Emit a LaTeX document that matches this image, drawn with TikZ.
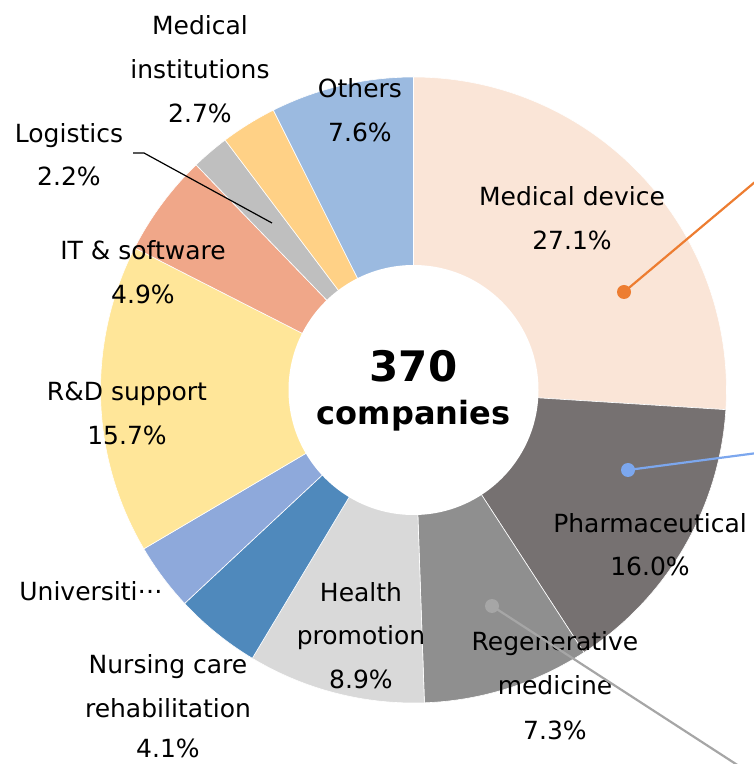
\documentclass[tikz,border=0pt]{standalone}
\usepackage{fontspec}
\setmainfont{DejaVu Sans}
\definecolor{cMD}{HTML}{FAE5D7}
\definecolor{cPH}{HTML}{767171}
\definecolor{cRG}{HTML}{8F8F8F}
\definecolor{cHP}{HTML}{D9D9D9}
\definecolor{cNC}{HTML}{4F89BC}
\definecolor{cUN}{HTML}{8EA9DB}
\definecolor{cRD}{HTML}{FFE699}
\definecolor{cIT}{HTML}{F0A789}
\definecolor{cLG}{HTML}{BFBFBF}
\definecolor{cMI}{HTML}{FFD186}
\definecolor{cOT}{HTML}{9BBAE0}
\definecolor{lnOrange}{HTML}{ED7D31}
\definecolor{lnBlue}{HTML}{7CA7EE}
\definecolor{lnGray}{HTML}{A6A6A6}
\begin{document}
\begin{tikzpicture}[x=1pt,y=1pt,
  slice/.style={fill=#1, draw=white, line width=0.6pt},
  lbl/.style={align=center, anchor=base, inner sep=0pt, font=\fontsize{25}{44}\selectfont},
  dotmark/.style={circle, fill=#1, minimum size=14pt, inner sep=0pt},
  leader/.style={draw=#1, line width=2.2pt}]
\useasboundingbox (0,0) rectangle (754,764);
\clip (0,0) rectangle (754,764);
\coordinate (C) at (413.5,374);
\foreach \a/\b/\c in {90/-3.6/cMD, -3.6/-57/cPH, -57/-88/cRG, -88/-121/cHP, -121/-137/cNC, -137/-149.5/cUN, -149.5/-207/cRD, -207/-226/cIT, -226/-233/cLG, -233/-243.4/cMI, -243.4/-270/cOT}
  \path[slice=\c] (C) -- ++(\a:313pt) arc[start angle=\a, end angle=\b, radius=313pt] -- cycle;
\node[circle, fill=white, minimum size=250pt, inner sep=0pt] (hole) at (C) {};
\node[anchor=base, inner sep=0pt, font=\fontsize{42}{42}\bfseries\selectfont] (total) at (413.5,382) {370};
\node[anchor=base, inner sep=0pt, font=\fontsize{32}{32}\bfseries\selectfont] (unit) at (413.5,339) {companies};
% labels
\node[lbl] (lMI) at (200,729) {Medical};
\node[lbl] (lMI2) at (200,685) {institutions};
\node[lbl] (lMI3) at (200,641) {2.7\%};
\node[lbl] (lLG) at (69,621) {Logistics};
\node[lbl] (lLG2) at (69,578) {2.2\%};
\node[lbl] (lIT) at (143,504) {IT \& software};
\node[lbl] (lIT2) at (143,460) {4.9\%};
\node[lbl] (lOT) at (360,666) {Others};
\node[lbl] (lOT2) at (360,622) {7.6\%};
\node[lbl] (lMD) at (572,558) {Medical device};
\node[lbl] (lMD2) at (572,514) {27.1\%};
\node[lbl] (lPH) at (650,231) {Pharmaceutical};
\node[lbl] (lPH2) at (650,188) {16.0\%};
\node[lbl] (lRD) at (127,363) {R\&D support};
\node[lbl] (lRD2) at (127,319) {15.7\%};
\node[lbl] (lHP) at (361,162) {Health};
\node[lbl] (lHP2) at (361,119) {promotion};
\node[lbl] (lHP3) at (361,75) {8.9\%};
\node[lbl] (lUN) at (91,163) {Universiti\raisebox{0.3em}{…}};
\node[lbl] (lNC) at (168,90) {Nursing care};
\node[lbl] (lNC2) at (168,46) {rehabilitation};
\node[lbl] (lNC3) at (168,6) {4.1\%};
\node[lbl] (lRG) at (555,113) {Regenerative};
\node[lbl] (lRG2) at (555,69) {medicine};
\node[lbl] (lRG3) at (555,24) {7.3\%};
% leader lines
\node[dotmark=lnOrange] (dMD) at (624,472) {};
\coordinate (eMD) at (780,603);
\draw[leader=lnOrange] (dMD.center) -- (eMD);
\node[dotmark=lnBlue] (dPH) at (628,294) {};
\coordinate (ePH) at (780,314);
\draw[leader=lnBlue] (dPH.center) -- (ePH);
\node[dotmark=lnGray] (dRG) at (492,158) {};
\coordinate (eRG) at (759,-15);
\draw[leader=lnGray] (dRG.center) -- (eRG);
\coordinate (sLG) at (133,611);
\coordinate (kLG) at (144,611);
\coordinate (eLG) at (272,541);
\draw[line width=1.2pt] (sLG) -- (kLG) -- (eLG);
\end{tikzpicture}
\end{document}
